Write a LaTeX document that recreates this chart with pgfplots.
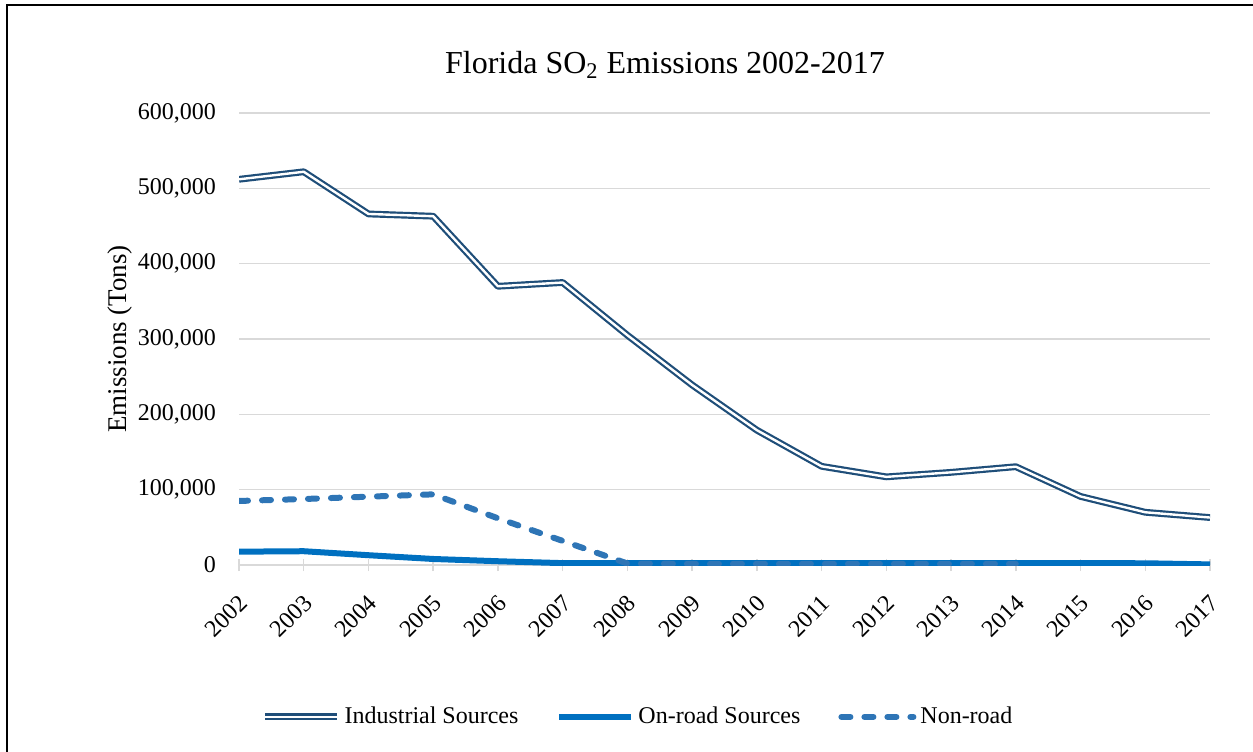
\documentclass[border=0pt]{standalone}
\usepackage{fontspec}
\setmainfont{Liberation Serif}
\usepackage{pgfplots}
\pgfplotsset{compat=1.18}

\definecolor{indblue}{HTML}{1F4E79}
\definecolor{onroad}{HTML}{0070C0}
\definecolor{nonroad}{HTML}{2E75B6}
\definecolor{gridgray}{HTML}{D9D9D9}

\begin{document}
\begin{tikzpicture}[x=1pt,y=1pt]
\useasboundingbox (0,0) rectangle (626.5,375.5);
% outer frame (only left and top edges are visible)
\draw[line width=1pt] (3.5,-5) -- (3.5,373) -- (640,373);

\begin{axis}[
    at={(119.5pt,93pt)}, anchor=south west,
    scale only axis,
    width=485.5pt, height=226pt,
    xmin=2002, xmax=2017,
    ymin=0, ymax=600000,
    xtick={2002,2003,...,2017},
    ytick={0,100000,...,600000},
    xtick pos=bottom, ytick pos=left,
    axis line style={draw=none},
    ymajorgrids,
    grid style={draw=gridgray, line width=0.75pt},
    xtick style={draw=gridgray, line width=0.75pt},
    ytick style={draw=none},
    tick align=center,
    major tick length=6pt,
    tick label style={font=\fontsize{12}{14}\selectfont},
    label style={font=\fontsize{13.5}{16}\selectfont},
    /pgf/number format/assume math mode=true,
    xticklabel style={/pgf/number format/1000 sep={}, rotate=45, anchor=north east, xshift=-5pt, yshift=-4pt},
    yticklabel style={/pgf/number format/1000 sep={,}, /pgf/number format/fixed, xshift=-5pt},
    scaled y ticks=false,
    ylabel={Emissions (Tons)},
    ylabel style={at={(axis description cs:-0.1226,0.5)}, anchor=center},
    legend columns=3,
    legend style={at={(axis description cs:0.412,-0.336)}, anchor=center, draw=none,
        font=\fontsize{12}{14}\selectfont, inner sep=0pt,
        /tikz/every even column/.append style={column sep=17pt}},
    legend cell align=left,
    legend image code/.code={\draw[#1] (0pt,0pt) -- (36pt,0pt);},
]
\addplot[indblue, line width=1.1pt, double=white, double distance=1.2pt, line join=round] coordinates {
(2002,512000) (2003,522000) (2004,466000) (2005,463000) (2006,370000) (2007,375000)
(2008,305000) (2009,239000) (2010,179000) (2011,131000) (2012,117000) (2013,123000)
(2014,130500) (2015,91000) (2016,70000) (2017,63000)
};
\addlegendentry{Industrial Sources}
\addplot[onroad, line width=3pt, line join=round] coordinates {
(2002,17700) (2003,18300) (2004,13000) (2005,8000) (2006,5000) (2007,2500)
(2008,2500) (2009,2500) (2010,2500) (2011,2500) (2012,2500) (2013,2500)
(2014,2500) (2015,2500) (2016,2300) (2017,800)
};
\addlegendentry{On-road Sources}
\addplot[nonroad, line width=3pt, line cap=round, dash pattern=on 4.5pt off 7pt] coordinates {
(2002,85000) (2003,87600) (2004,90700) (2005,93800) (2006,62000) (2007,32000)
(2008,2000) (2009,1500) (2010,1500) (2011,1500) (2012,1500) (2013,1500) (2014,1500)
};
\addlegendentry{Non-road}
\end{axis}

\node[font=\fontsize{16}{19}\selectfont] at (332.5,343) {Florida SO\textsubscript{2} Emissions 2002-2017};
\end{tikzpicture}
\end{document}
